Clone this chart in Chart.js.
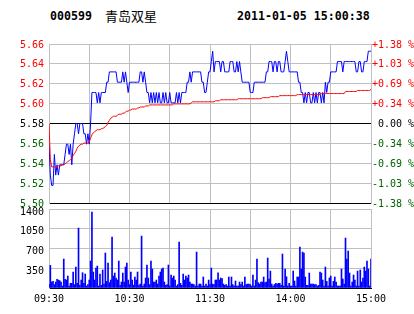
<!DOCTYPE html>
<html>
<head>
<meta charset="utf-8">
<script src="https://cdn.jsdelivr.net/npm/chart.js@4.4.0/dist/chart.umd.min.js"></script>
<style>
  html, body { margin: 0; padding: 0; background: #fff; }
  #wrap { position: relative; width: 414px; height: 314px; overflow: hidden; }
  #wrap canvas { position: absolute; left: 0; top: 0; }
  .hd { position: absolute; top: 9px; line-height: 16px; white-space: pre; color: #000;
        font: bold 11.6px "DejaVu Sans Mono", monospace; }
  .hd.cn { top: 6px; font: 13px "Noto Sans CJK SC", sans-serif; }
</style>
</head>
<body>
<div id="wrap">
  <div class="hd" style="left:50px">000599</div>
  <div class="hd cn" style="left:105px">青岛双星</div>
  <div class="hd" style="left:237px">2011-01-05 15:00:38</div>
  <canvas id="price" width="414" height="314"></canvas>
  <canvas id="vol" width="414" height="314"></canvas>
</div>
<script>
// 000599 intraday, one point per minute from 09:30 (0) to 15:00 (240)
const prevClose = 5.58;
const pctRange = 1.38;

const priceLabels = ["5.50", "5.52", "5.54", "5.56", "5.58", "5.60", "5.62", "5.64", "5.66"];
const pctLabels = ["-1.38 %", "-1.03 %", "-0.69 %", "-0.34 %", " 0.00 %", "+0.34 %", "+0.69 %", "+1.03 %", "+1.38 %"];
const volMax = 1400;
const timeLabels = ["09:30", "", "10:30", "", "11:30", "", "14:00", "", "15:00"];

const price = [
  5.56, 5.53, 5.52, 5.52, 5.55, 5.53, 5.54, 5.53, 5.54, 5.54,
  5.54, 5.54, 5.55, 5.56, 5.56, 5.55, 5.56, 5.54, 5.56, 5.57,
  5.58, 5.58, 5.57, 5.58, 5.58, 5.58, 5.57, 5.57, 5.56, 5.57,
  5.56, 5.58, 5.61, 5.61, 5.61, 5.61, 5.60, 5.61, 5.60, 5.61,
  5.61, 5.61, 5.61, 5.62, 5.62, 5.63, 5.63, 5.63, 5.63, 5.63,
  5.63, 5.62, 5.62, 5.62, 5.62, 5.63, 5.62, 5.63, 5.62, 5.61,
  5.62, 5.62, 5.62, 5.62, 5.62, 5.62, 5.62, 5.62, 5.63, 5.63,
  5.62, 5.63, 5.62, 5.61, 5.61, 5.60, 5.61, 5.60, 5.61, 5.60,
  5.61, 5.60, 5.61, 5.60, 5.60, 5.61, 5.60, 5.61, 5.60, 5.60,
  5.61, 5.60, 5.60, 5.60, 5.60, 5.61, 5.60, 5.61, 5.60, 5.61,
  5.61, 5.61, 5.61, 5.62, 5.62, 5.63, 5.62, 5.63, 5.63, 5.63,
  5.63, 5.63, 5.63, 5.63, 5.62, 5.62, 5.61, 5.61, 5.62, 5.63,
  5.63, 5.64, 5.65, 5.63, 5.64, 5.64, 5.64, 5.64, 5.63, 5.64,
  5.64, 5.63, 5.63, 5.63, 5.63, 5.64, 5.64, 5.64, 5.63, 5.63,
  5.64, 5.63, 5.64, 5.63, 5.62, 5.62, 5.62, 5.62, 5.62, 5.62,
  5.61, 5.61, 5.61, 5.62, 5.62, 5.62, 5.62, 5.62, 5.62, 5.62,
  5.62, 5.62, 5.63, 5.63, 5.64, 5.64, 5.64, 5.63, 5.64, 5.64,
  5.63, 5.64, 5.64, 5.63, 5.63, 5.63, 5.64, 5.65, 5.64, 5.63,
  5.63, 5.63, 5.63, 5.63, 5.63, 5.63, 5.62, 5.62, 5.61, 5.61,
  5.60, 5.61, 5.60, 5.61, 5.61, 5.60, 5.60, 5.61, 5.60, 5.61,
  5.60, 5.61, 5.61, 5.60, 5.61, 5.60, 5.62, 5.61, 5.62, 5.62,
  5.63, 5.63, 5.63, 5.63, 5.63, 5.64, 5.64, 5.64, 5.64, 5.63,
  5.64, 5.64, 5.64, 5.64, 5.64, 5.64, 5.64, 5.64, 5.64, 5.63,
  5.63, 5.64, 5.64, 5.63, 5.63, 5.64, 5.64, 5.64, 5.65, 5.65,
  5.65
];

const avgPrice = [
  5.580, 5.545, 5.538, 5.538, 5.538, 5.538, 5.538, 5.539, 5.539, 5.539,
  5.540, 5.540, 5.541, 5.542, 5.543, 5.544, 5.545, 5.546, 5.549, 5.551,
  5.553, 5.556, 5.558, 5.559, 5.560, 5.560, 5.561, 5.561, 5.561, 5.561,
  5.562, 5.566, 5.569, 5.571, 5.572, 5.573, 5.574, 5.574, 5.574, 5.575,
  5.575, 5.576, 5.577, 5.578, 5.581, 5.583, 5.585, 5.586, 5.587, 5.587,
  5.587, 5.588, 5.589, 5.589, 5.589, 5.590, 5.590, 5.591, 5.592, 5.592,
  5.593, 5.593, 5.594, 5.594, 5.594, 5.594, 5.595, 5.595, 5.596, 5.596,
  5.596, 5.596, 5.597, 5.597, 5.597, 5.598, 5.598, 5.598, 5.598, 5.598,
  5.598, 5.598, 5.598, 5.598, 5.598, 5.598, 5.598, 5.598, 5.598, 5.598,
  5.598, 5.598, 5.598, 5.599, 5.599, 5.599, 5.599, 5.599, 5.599, 5.599,
  5.599, 5.599, 5.599, 5.599, 5.599, 5.599, 5.600, 5.601, 5.601, 5.601,
  5.601, 5.601, 5.601, 5.601, 5.601, 5.601, 5.601, 5.601, 5.601, 5.601,
  5.601, 5.601, 5.601, 5.601, 5.602, 5.602, 5.602, 5.602, 5.603, 5.603,
  5.603, 5.603, 5.603, 5.603, 5.603, 5.603, 5.603, 5.603, 5.603, 5.603,
  5.603, 5.604, 5.604, 5.604, 5.604, 5.604, 5.604, 5.604, 5.604, 5.604,
  5.604, 5.604, 5.604, 5.604, 5.604, 5.604, 5.604, 5.604, 5.604, 5.605,
  5.605, 5.605, 5.605, 5.605, 5.605, 5.606, 5.606, 5.606, 5.606, 5.606,
  5.606, 5.606, 5.607, 5.607, 5.607, 5.607, 5.607, 5.607, 5.607, 5.607,
  5.607, 5.607, 5.607, 5.607, 5.607, 5.608, 5.608, 5.608, 5.608, 5.608,
  5.608, 5.608, 5.608, 5.608, 5.608, 5.608, 5.608, 5.608, 5.608, 5.608,
  5.608, 5.608, 5.608, 5.609, 5.609, 5.609, 5.609, 5.609, 5.609, 5.609,
  5.609, 5.609, 5.609, 5.609, 5.609, 5.609, 5.609, 5.609, 5.609, 5.609,
  5.609, 5.611, 5.611, 5.611, 5.611, 5.611, 5.611, 5.611, 5.611, 5.611,
  5.612, 5.612, 5.612, 5.612, 5.612, 5.612, 5.612, 5.612, 5.612, 5.612,
  5.613
];

const volume = [
  60, 401, 106, 118, 60, 106, 153, 141, 130, 106,
  35, 513, 153, 141, 212, 35, 83, 83, 283, 60,
  372, 83, 1062, 47, 141, 271, 83, 248, 35, 60,
  141, 478, 1345, 283, 141, 354, 389, 35, 248, 47,
  319, 70, 620, 118, 442, 94, 141, 903, 212, 265,
  177, 141, 478, 47, 106, 265, 106, 372, 442, 141,
  60, 283, 141, 50, 195, 141, 283, 47, 70, 920,
  35, 70, 177, 407, 177, 60, 478, 336, 106, 106,
  141, 70, 212, 283, 336, 354, 106, 47, 60, 407,
  35, 230, 177, 212, 141, 35, 60, 814, 83, 47,
  248, 141, 212, 177, 230, 106, 70, 70, 60, 35,
  637, 35, 70, 70, 35, 195, 35, 70, 35, 141,
  60, 354, 70, 60, 141, 141, 271, 141, 177, 165,
  70, 47, 60, 35, 195, 35, 195, 60, 35, 124,
  35, 35, 106, 60, 106, 35, 195, 60, 70, 70,
  60, 35, 230, 35, 141, 513, 94, 70, 106, 106,
  195, 94, 106, 531, 159, 300, 70, 35, 60, 83,
  70, 83, 83, 47, 602, 35, 336, 200, 35, 83,
  35, 35, 300, 124, 35, 195, 195, 725, 336, 637,
  620, 195, 47, 47, 265, 70, 70, 70, 60, 60,
  35, 47, 283, 265, 141, 35, 372, 118, 35, 177,
  212, 35, 118, 195, 106, 35, 35, 35, 336, 159,
  70, 885, 513, 655, 265, 35, 106, 230, 141, 35,
  300, 35, 319, 106, 177, 372, 300, 478, 336, 35,
  513
];

const GRID = "#c0c0c0";
const RED = "#ff0000";
const GREEN = "#006400";
Chart.defaults.font.family = '"DejaVu Sans Mono", monospace';
Chart.defaults.font.size = 10;
Chart.defaults.color = "#000";

const lo = prevClose * (1 - pctRange / 100);
const hi = prevClose * (1 + pctRange / 100);

function evenTicks(scale) {
  const t = [];
  for (let i = 0; i <= 8; i++) t.push({ value: lo + (hi - lo) * i / 8 });
  scale.ticks = t;
}
function sideColor(ctx) {
  return ctx.index > 4 ? RED : ctx.index === 4 ? "#000" : GREEN;
}

const xBase = {
  type: "linear", min: 0, max: 240, offset: false,
  grid: { color: GRID, drawTicks: false, offset: false },
};

new Chart(document.getElementById("price"), {
  type: "line",
  data: {
    datasets: [
      { data: avgPrice.map((v, i) => ({ x: i, y: v })), borderColor: RED, borderWidth: 1, pointRadius: 0, tension: 0 },
      { data: price.map((v, i) => ({ x: i, y: v })), borderColor: "#0000ff", borderWidth: 1, pointRadius: 0, tension: 0 },
    ],
  },
  options: {
    responsive: false, animation: false, events: [],
    layout: { padding: { top: 44, bottom: 111, left: 0, right: 0 } },
    plugins: { legend: { display: false }, tooltip: { enabled: false } },
    scales: {
      x: { ...xBase, ticks: { display: false, stepSize: 30 }, border: { display: false },
           afterFit: s => { s.height = 0; } },
      y: {
        position: "left", min: lo, max: hi,
        afterBuildTicks: evenTicks,
        afterFit: s => { s.width = 49; },
        grid: { color: c => (c.index === 0 || c.index === 4) ? "#000" : GRID, drawTicks: false },
        border: { color: GRID },
        ticks: { padding: 5, autoSkip: false, labelOffset: 1, color: sideColor, callback: (v, i) => priceLabels[i] },
      },
      y2: {
        position: "right", min: lo, max: hi,
        afterBuildTicks: evenTicks,
        afterFit: s => { s.width = 43; },
        grid: { drawOnChartArea: false, drawTicks: false },
        border: { color: GRID },
        ticks: { padding: 1, autoSkip: false, labelOffset: 1, color: sideColor, callback: (v, i) => pctLabels[i] },
      },
    },
  },
});

new Chart(document.getElementById("vol"), {
  type: "bar",
  data: {
    datasets: [{ data: volume.map((v, i) => ({ x: i, y: v })), backgroundColor: "#0000ff", borderWidth: 0, barThickness: 1 }],
  },
  options: {
    responsive: false, animation: false, events: [],
    layout: { padding: { top: 209, bottom: 0, left: 0, right: 43 } },
    plugins: { legend: { display: false }, tooltip: { enabled: false } },
    scales: {
      x: { ...xBase, border: { color: "#000" },
           ticks: { stepSize: 30, autoSkip: false, maxRotation: 0, padding: 5, callback: (v, i) => timeLabels[i] },
           afterFit: s => { s.height = 26; } },
      y: {
        position: "left", min: 0, max: volMax,
        afterFit: s => { s.width = 49; },
        grid: { color: c => c.index === 0 ? "#000" : GRID, drawTicks: false },
        border: { color: GRID },
        ticks: { stepSize: 350, padding: 5, labelOffset: 3, callback: v => v === 0 ? "" : v },
      },
    },
  },
});
</script>
</body>
</html>
